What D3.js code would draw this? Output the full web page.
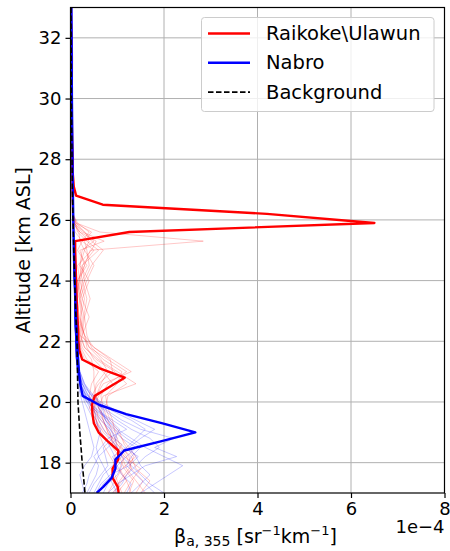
<!DOCTYPE html>
<html>
<head>
<meta charset="utf-8">
<script src="https://cdn.jsdelivr.net/npm/d3@7"></script>
<style>
  body { margin: 0; background: #fff; }
  text { font-family: "DejaVu Sans", sans-serif; fill: #000; }
</style>
</head>
<body>
<div id="chart"></div>
<script>
// Profils principaux (altitude en km, beta en 1e-4 sr-1 km-1)
const raikokeAlt = [33, 31, 29, 27.5, 27.1, 26.8, 26.5, 26.2, 25.9, 25.6, 25.3, 25.0, 24.5, 24, 23.5, 23, 22.5, 22, 21.7, 21.4, 21.1, 20.8, 20.5, 20.2, 19.9, 19.6, 19.3, 19.0, 18.7, 18.4, 18.1, 17.8, 17.5, 17.2, 17.0];
const raikokeVal = [0.01, 0.02, 0.03, 0.05, 0.07, 0.12, 0.69, 4.2, 6.5, 1.26, 0.1, 0.1, 0.11, 0.12, 0.13, 0.14, 0.16, 0.17, 0.19, 0.25, 0.64, 1.16, 0.84, 0.52, 0.46, 0.47, 0.5, 0.6, 0.8, 1.02, 1.02, 0.9, 0.9, 1.01, 1.03];

const nabroAlt = [33, 30, 27, 25, 23, 22, 21, 20.5, 20.2, 19.9, 19.6, 19.3, 19.0, 18.7, 18.4, 18.1, 17.8, 17.5, 17.2, 17.0];
const nabroVal = [0.02, 0.03, 0.05, 0.07, 0.11, 0.14, 0.18, 0.22, 0.26, 0.62, 1.19, 1.95, 2.67, 1.93, 1.15, 0.96, 0.96, 0.88, 0.7, 0.56];

const bgAlt = [33, 30, 27, 25, 23, 22, 21, 20, 19, 18, 17];
const bgVal = [0.01, 0.02, 0.04, 0.07, 0.11, 0.14, 0.15, 0.16, 0.2, 0.25, 0.31];

// Profils individuels (lignes fines)
const redThinAlt = [17.0, 17.4, 17.8, 18.2, 18.6, 19.0, 19.4, 19.8, 20.2, 20.6, 21.0, 21.4, 21.8, 22.2, 22.8, 23.4, 24.0, 24.5, 25.0, 25.3, 25.6, 25.9, 26.2, 27.0, 29.0, 31.3, 33.0];
const redThin1 = [1.25, 1.35, 1.15, 1.05, 0.85, 0.65, 0.55, 0.5, 0.6, 0.9, 0.7, 0.35, 0.22, 0.15, 0.12, 0.14, 0.2, 0.3, 0.42, 2.84, 0.63, 0.12, 0.06, 0.04, 0.03, 0.02, 0.01];
const redThin2 = [0.9, 1.1, 1.3, 1.2, 1.0, 0.8, 0.7, 0.6, 0.7, 1.4, 1.0, 0.6, 0.3, 0.2, 0.25, 0.2, 0.15, 0.3, 0.2, 0.72, 0.25, 0.08, 0.05, 0.04, 0.03, 0.02, 0.01];
const redThin3 = [1.5, 1.7, 1.4, 1.3, 1.0, 0.9, 0.8, 0.7, 0.65, 0.8, 1.2, 0.8, 0.4, 0.25, 0.3, 0.42, 0.3, 0.25, 0.6, 0.35, 0.15, 0.1, 0.05, 0.04, 0.03, 0.05, 0.01];
const redThin4 = [1.1, 1.0, 0.9, 0.95, 1.1, 0.75, 0.6, 0.55, 0.45, 0.6, 0.9, 0.85, 0.5, 0.2, 0.15, 0.2, 0.35, 0.5, 0.3, 0.2, 0.18, 0.06, 0.04, 0.03, 0.02, 0.03, 0.01];
const redThin5 = [1.3, 1.2, 1.0, 0.85, 0.7, 0.6, 0.55, 0.4, 0.5, 0.55, 0.75, 0.5, 0.35, 0.3, 0.2, 0.25, 0.4, 0.2, 0.25, 0.5, 0.3, 0.07, 0.05, 0.03, 0.02, 0.02, 0.01];
const redThin6 = [0.8, 0.95, 1.1, 1.4, 1.2, 1.0, 0.75, 0.6, 0.55, 0.5, 0.5, 0.45, 0.25, 0.18, 0.22, 0.3, 0.2, 0.15, 0.45, 0.55, 0.2, 0.05, 0.04, 0.03, 0.02, 0.02, 0.01];
const redThin7 = [1.0, 1.2, 1.05, 1.15, 0.9, 0.85, 0.65, 0.5, 0.4, 0.45, 0.6, 0.3, 0.2, 0.25, 0.4, 0.25, 0.15, 0.35, 0.15, 0.25, 0.4, 0.15, 0.05, 0.03, 0.02, 0.02, 0.01];
const redThin8 = [1.6, 1.4, 1.2, 1.1, 0.95, 0.7, 0.55, 0.5, 0.55, 0.7, 1.3, 0.9, 0.5, 0.3, 0.15, 0.12, 0.18, 0.25, 0.5, 0.25, 0.1, 0.05, 0.04, 0.03, 0.02, 0.02, 0.01];
const redThin9 = [1.4, 1.55, 1.3, 1.25, 1.05, 0.95, 0.9, 0.8, 0.75, 1.0, 1.1, 0.7, 0.45, 0.35, 0.3, 0.2, 0.25, 0.4, 0.35, 0.3, 0.45, 0.1, 0.05, 0.04, 0.03, 0.02, 0.01];
const redThin10 = [0.95, 1.05, 1.25, 1.35, 1.15, 1.05, 0.85, 0.75, 0.8, 1.2, 0.95, 0.55, 0.3, 0.22, 0.28, 0.35, 0.25, 0.2, 0.3, 0.4, 0.2, 0.08, 0.05, 0.03, 0.02, 0.02, 0.01];
const redThin11 = [1.15, 1.3, 1.5, 1.15, 0.95, 0.8, 0.7, 0.65, 0.55, 0.65, 0.8, 0.65, 0.4, 0.3, 0.18, 0.15, 0.3, 0.45, 0.7, 0.45, 0.3, 0.12, 0.05, 0.04, 0.03, 0.02, 0.01];

const blueThinAlt = [17.0, 17.3, 17.6, 17.9, 18.2, 18.5, 18.8, 19.1, 19.4, 19.7, 20.0, 20.3, 20.6, 21.0, 21.5, 22.5, 25.0, 29.0, 33.0];
const blueThin1 = [0.3, 0.25, 0.2, 0.3, 0.45, 0.5, 0.45, 0.4, 0.35, 0.3, 0.25, 0.2, 0.15, 0.14, 0.12, 0.1, 0.07, 0.04, 0.02];
const blueThin2 = [1.5, 1.8, 2.1, 2.4, 2.0, 1.6, 1.3, 1.0, 0.8, 0.6, 0.4, 0.3, 0.2, 0.16, 0.13, 0.1, 0.07, 0.04, 0.02];
const blueThin3 = [0.8, 1.0, 1.3, 1.6, 2.27, 1.8, 2.2, 1.5, 1.1, 0.8, 0.5, 0.3, 0.2, 0.15, 0.13, 0.1, 0.07, 0.04, 0.02];
const blueThin4 = [0.5, 0.6, 0.7, 0.9, 1.1, 1.0, 0.85, 0.7, 0.6, 0.5, 0.45, 0.35, 0.25, 0.18, 0.13, 0.1, 0.07, 0.04, 0.02];
const blueThin5 = [1.2, 1.3, 1.1, 1.0, 0.9, 1.2, 1.4, 1.6, 1.3, 0.9, 0.6, 0.4, 0.25, 0.16, 0.12, 0.1, 0.07, 0.04, 0.02];
const blueThin6 = [0.4, 0.5, 0.65, 0.8, 0.75, 0.7, 0.9, 0.8, 0.7, 0.55, 0.35, 0.22, 0.18, 0.15, 0.12, 0.1, 0.07, 0.04, 0.02];
const blueThin7 = [1.8, 1.6, 1.4, 1.2, 1.3, 1.5, 1.2, 0.95, 0.8, 0.65, 0.55, 0.4, 0.3, 0.2, 0.14, 0.1, 0.07, 0.04, 0.02];
const blueThin8 = [0.6, 0.7, 0.9, 1.0, 1.2, 1.4, 1.1, 0.9, 0.75, 0.7, 0.6, 0.45, 0.3, 0.2, 0.14, 0.1, 0.07, 0.04, 0.02];
const blueThin9 = [1.0, 0.9, 0.8, 0.7, 0.6, 0.55, 0.6, 0.65, 0.5, 0.4, 0.3, 0.25, 0.2, 0.16, 0.13, 0.1, 0.07, 0.04, 0.02];
const blueThin10 = [0.35, 0.45, 0.55, 0.6, 0.5, 0.65, 0.8, 1.2, 0.9, 0.6, 0.4, 0.3, 0.22, 0.17, 0.13, 0.1, 0.07, 0.04, 0.02];
const blueThin11 = [2.0, 1.7, 1.5, 1.3, 1.1, 1.0, 0.95, 0.85, 0.75, 0.65, 0.5, 0.35, 0.25, 0.18, 0.13, 0.1, 0.07, 0.04, 0.02];
const blueThin12 = [0.7, 0.8, 1.0, 1.1, 0.95, 0.85, 0.75, 0.6, 0.55, 0.45, 0.35, 0.25, 0.2, 0.16, 0.12, 0.1, 0.07, 0.04, 0.02];
const blueThin13 = [0.9, 1.1, 1.2, 1.4, 1.6, 1.9, 1.7, 1.3, 1.0, 0.75, 0.5, 0.32, 0.22, 0.16, 0.12, 0.1, 0.07, 0.04, 0.02];
const blueThin14 = [0.25, 0.35, 0.4, 0.5, 0.6, 0.8, 1.0, 0.85, 0.65, 0.5, 0.4, 0.28, 0.2, 0.15, 0.12, 0.1, 0.07, 0.04, 0.02];
const blueThin15 = [1.3, 1.5, 1.7, 1.5, 1.4, 1.25, 1.5, 1.8, 1.4, 1.0, 0.65, 0.42, 0.28, 0.18, 0.13, 0.1, 0.07, 0.04, 0.02];
const blueThin16 = [0.55, 0.65, 0.85, 1.25, 1.45, 1.15, 0.95, 1.05, 0.85, 0.55, 0.38, 0.26, 0.19, 0.15, 0.12, 0.1, 0.07, 0.04, 0.02];

const xTicks = [0, 2, 4, 6, 8];
const yTicks = [18, 20, 22, 24, 26, 28, 30, 32];
const legendLabels = ['Raikoke\\Ulawun', 'Nabro', 'Background'];

// Dimensions
const width = 450, height = 551;
const margin = { left: 70.5, right: 5.5, top: 7.5, bottom: 58 };
const plotW = width - margin.left - margin.right;
const plotH = height - margin.top - margin.bottom;

const svg = d3.select('#chart').append('svg')
    .attr('width', width)
    .attr('height', height);

const x = d3.scaleLinear().domain([0, 8]).range([margin.left, margin.left + plotW]);
const y = d3.scaleLinear().domain([17, 33]).range([margin.top + plotH, margin.top]);

// Grille
const grid = svg.append('g').attr('stroke', '#b0b0b0').attr('stroke-width', 1);
grid.selectAll('.gx').data(xTicks).enter().append('line')
    .attr('x1', d => x(d)).attr('x2', d => x(d))
    .attr('y1', margin.top).attr('y2', margin.top + plotH);
grid.selectAll('.gy').data(yTicks).enter().append('line')
    .attr('x1', margin.left).attr('x2', margin.left + plotW)
    .attr('y1', d => y(d)).attr('y2', d => y(d));

// Zone de découpe
svg.append('clipPath').attr('id', 'clip').append('rect')
    .attr('x', margin.left).attr('y', margin.top)
    .attr('width', plotW).attr('height', plotH);

const g = svg.append('g').attr('clip-path', 'url(#clip)');

const line = d3.line().x(d => x(d[1])).y(d => y(d[0]));
const zip = (alts, vals) => alts.map((a, i) => [a, vals[i]]);

// Lignes fines
[redThin1, redThin2, redThin3, redThin4, redThin5, redThin6, redThin7, redThin8, redThin9, redThin10, redThin11].forEach(v => {
    g.append('path').datum(zip(redThinAlt, v))
        .attr('d', line).attr('fill', 'none')
        .attr('stroke', 'red').attr('stroke-opacity', 0.22).attr('stroke-width', 1);
});
[blueThin1, blueThin2, blueThin3, blueThin4, blueThin5, blueThin6, blueThin7, blueThin8, blueThin9, blueThin10, blueThin11, blueThin12, blueThin13, blueThin14, blueThin15, blueThin16].forEach(v => {
    g.append('path').datum(zip(blueThinAlt, v))
        .attr('d', line).attr('fill', 'none')
        .attr('stroke', 'blue').attr('stroke-opacity', 0.22).attr('stroke-width', 1);
});

// Lignes principales
g.append('path').datum(zip(raikokeAlt, raikokeVal))
    .attr('d', line).attr('fill', 'none')
    .attr('stroke', 'red').attr('stroke-width', 2.4).attr('stroke-linejoin', 'round');
g.append('path').datum(zip(nabroAlt, nabroVal))
    .attr('d', line).attr('fill', 'none')
    .attr('stroke', 'blue').attr('stroke-width', 2.4).attr('stroke-linejoin', 'round');
g.append('path').datum(zip(bgAlt, bgVal))
    .attr('d', line).attr('fill', 'none')
    .attr('stroke', 'black').attr('stroke-width', 1.6).attr('stroke-dasharray', '5.5,2.5');

// Cadre
svg.append('rect')
    .attr('x', margin.left).attr('y', margin.top)
    .attr('width', plotW).attr('height', plotH)
    .attr('fill', 'none').attr('stroke', 'black').attr('stroke-width', 1.2);

// Axes
const xAxis = svg.append('g').attr('transform', `translate(0,${margin.top + plotH})`)
    .call(d3.axisBottom(x).tickValues(xTicks).tickSize(5).tickPadding(4).tickFormat(d3.format('d')));
const yAxis = svg.append('g').attr('transform', `translate(${margin.left},0)`)
    .call(d3.axisLeft(y).tickValues(yTicks).tickSize(5).tickPadding(4).tickFormat(d3.format('d')));
[xAxis, yAxis].forEach(a => {
    a.select('.domain').remove();
    a.selectAll('.tick line').attr('stroke', 'black').attr('stroke-width', 1.2);
    a.selectAll('.tick text').attr('font-size', 18).attr('font-family', 'DejaVu Sans').attr('fill', 'black');
});

// Titres des axes
svg.append('text')
    .attr('transform', `translate(24,${margin.top + plotH / 2}) rotate(-90)`)
    .attr('text-anchor', 'middle')
    .attr('dominant-baseline', 'middle')
    .attr('font-size', 19)
    .text('Altitude [km ASL]');

const xl = svg.append('text')
    .attr('x', margin.left + plotW / 2 - 2)
    .attr('y', 543)
    .attr('text-anchor', 'middle')
    .attr('font-size', 19);
xl.append('tspan').text('β');
xl.append('tspan').attr('font-size', 14).attr('dy', 3).text('a, 355');
xl.append('tspan').attr('dy', -3).text(' [sr');
xl.append('tspan').attr('font-size', 13).attr('dy', -8).text('−1');
xl.append('tspan').attr('dy', 8).text('km');
xl.append('tspan').attr('font-size', 13).attr('dy', -8).text('−1');
xl.append('tspan').attr('dy', 8).text(']');

svg.append('text')
    .attr('x', margin.left + plotW)
    .attr('y', 533)
    .attr('text-anchor', 'end')
    .attr('font-size', 18)
    .text('1e−4');

// Légende
const legend = svg.append('g');
legend.append('rect')
    .attr('x', 201.5).attr('y', 17.5)
    .attr('width', 232.5).attr('height', 94)
    .attr('rx', 3)
    .attr('fill', 'white').attr('fill-opacity', 0.8)
    .attr('stroke', '#cccccc').attr('stroke-width', 1);

const legendStyles = [
    { color: 'red', dash: null, w: 2.4 },
    { color: 'blue', dash: null, w: 2.4 },
    { color: 'black', dash: '5.5,2.5', w: 1.6 }
];
legendLabels.forEach((lab, i) => {
    const yy = 33.5 + i * 29.3;
    legend.append('line')
        .attr('x1', 208).attr('x2', 250)
        .attr('y1', yy).attr('y2', yy)
        .attr('stroke', legendStyles[i].color)
        .attr('stroke-width', legendStyles[i].w)
        .attr('stroke-dasharray', legendStyles[i].dash);
    legend.append('text')
        .attr('x', 266).attr('y', yy)
        .attr('dominant-baseline', 'central')
        .attr('font-size', 19.5)
        .text(lab);
});
</script>
</body>
</html>
